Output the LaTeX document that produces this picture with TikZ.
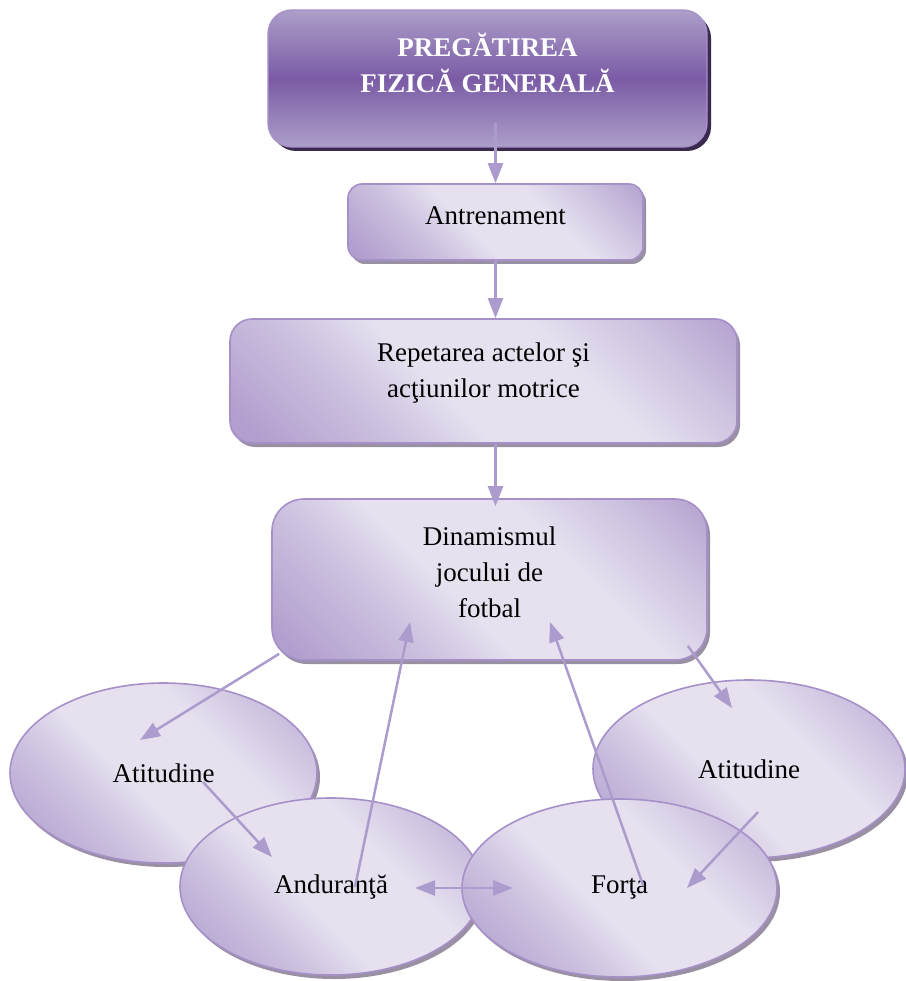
\documentclass[tikz,border=0pt]{standalone}
\usepackage{fontspec}
\setmainfont{Liberation Serif}
\usetikzlibrary{shapes.geometric,shadows,arrows.meta}

\definecolor{lavin}{HTML}{E6E0EF}
\definecolor{lavmid}{HTML}{CDC2E0}
\definecolor{lavout}{HTML}{B19FCE}
\definecolor{lavline}{HTML}{A690C8}
\definecolor{lavarrow}{HTML}{AC9CCD}
\definecolor{toplight}{HTML}{AC9EC9}
\definecolor{topdark}{HTML}{7A5BA5}
\definecolor{boxshadow}{HTML}{8E8499}
\definecolor{topshadow}{HTML}{3B2A50}
\pgfdeclareverticalshading{lavband}{100bp}{color(0bp)=(lavout); color(18bp)=(lavout); color(34bp)=(lavmid); color(44bp)=(lavin); color(62bp)=(lavin); color(74bp)=(lavmid); color(86bp)=(lavout); color(100bp)=(lavout)}

\begin{document}
\begin{tikzpicture}[x=1pt,y=-1pt,
  every node/.style={font=\fontsize{27}{36}\selectfont, align=center, inner sep=0pt},
  topbox/.style={rectangle, draw=lavline, line width=1.4pt, top color=toplight, bottom color=toplight, middle color=topdark,
    text=white, font=\fontsize{27}{36}\selectfont\bfseries,
    drop shadow={shadow xshift=4pt, shadow yshift=-4pt, fill=topshadow, opacity=1}},
  lavbox/.style={rectangle, draw=lavline, line width=1.6pt, shading=lavband, shading angle=-45,
    drop shadow={shadow xshift=3pt, shadow yshift=-4pt, fill=boxshadow, opacity=0.9}},
  lavell/.style={ellipse, draw=lavline, line width=1.6pt, shading=lavband, shading angle=-45,
    drop shadow={shadow xshift=3pt, shadow yshift=-4pt, fill=boxshadow, opacity=0.9}},
  link/.style={draw=lavarrow, line width=2.5pt, -{Triangle[length=20pt,width=15pt]}},
  twolink/.style={draw=lavarrow, line width=2.5pt, {Triangle[length=20pt,width=15pt]}-{Triangle[length=20pt,width=15pt]}}]
\useasboundingbox (0,0) rectangle (905,981);

\node[topbox, minimum width=439, minimum height=137, rounded corners=24, text depth=32] (top) at (487.5,78.5) {PREGĂTIREA\\FIZICĂ GENERALĂ};
\node[lavbox, minimum width=295, minimum height=76, rounded corners=14, text depth=12] (ant) at (495.5,222) {Antrenament};
\node[lavbox, minimum width=507, minimum height=124, rounded corners=22, text depth=21] (rep) at (483.5,381) {Repetarea actelor şi\\acţiunilor motrice};
\node[lavbox, minimum width=435, minimum height=161, rounded corners=32, text depth=14] (din) at (489.5,579.5) {Dinamismul\\jocului de\\fotbal};

\node[lavell, minimum width=307, minimum height=180] (atl) at (163.5,773) {Atitudine};
\node[lavell, minimum width=312, minimum height=178] (atr) at (749,769) {Atitudine};
\node[lavell, minimum width=302, minimum height=177] (and) at (331,886.5) {Anduranţă};
\node[lavell, minimum width=315, minimum height=178] (for) at (619.5,888) {Forţa};

\draw[link] ([yshift=25]ant.north |- top.south) -- (ant.north);
\draw[link] (ant.south) -- (ant.south |- rep.north);
\draw[link] (rep.south -| ant.south) -- ([yshift=-8]ant.south |- din.north);
\draw[link] ([shift={(8,-7)}]din.south west) -- ([shift={(-23.5,-33)}]atl.center);
\draw[link] ([shift={(39.5,9)}]atl.center) -- ([shift={(-59,-29.5)}]and.center);
\draw[link] ([shift={(24,0.5)}]and.center) -- ([shift={(-79.5,42.5)}]din.center);
\draw[link] ([shift={(23.5,-3)}]for.center) -- ([shift={(60.5,42.5)}]din.center);
\draw[link] ([shift={(-20,-15)}]din.south east) -- ([shift={(-17,-61)}]atr.center);
\draw[link] ([shift={(9,43)}]atr.center) -- ([shift={(67.5,0)}]for.center);
\draw[twolink] ([shift={(84,1.5)}]and.center) -- ([shift={(-106.5,0)}]for.center);
\end{tikzpicture}
\end{document}
